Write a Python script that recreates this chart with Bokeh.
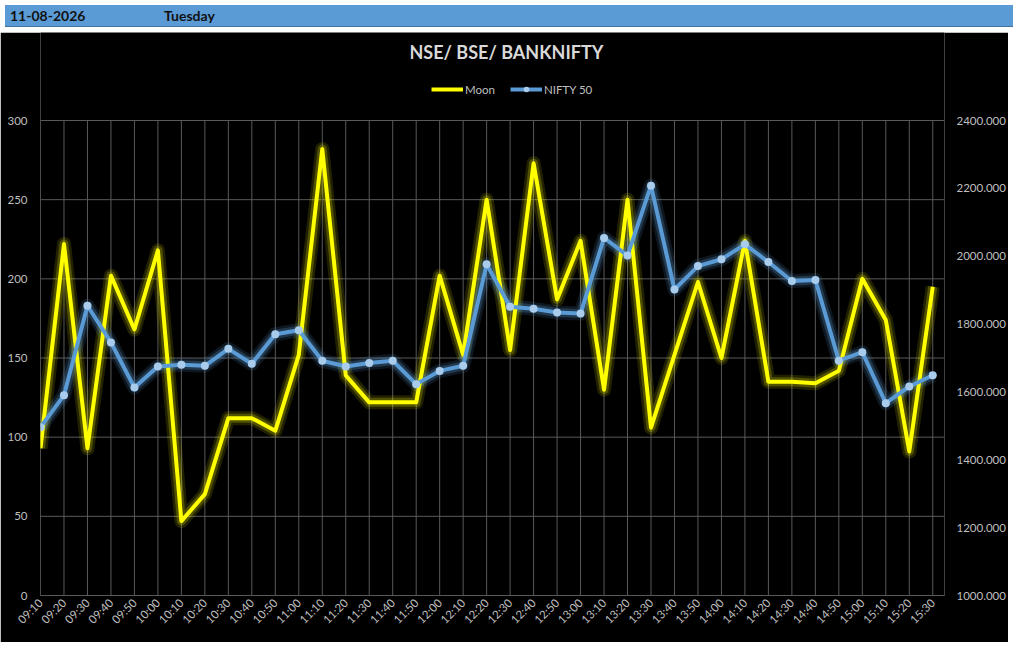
import math
from bokeh.plotting import figure
from bokeh.models import (Range1d, LinearAxis, FixedTicker, NumeralTickFormatter,
                          Legend, LegendItem, Div, ColumnDataSource, Label)
from bokeh.layouts import column
from bokeh.embed import file_html
from bokeh.resources import INLINE

header_date = "11-08-2026"
header_day = "Tuesday"
chart_title = "NSE/ BSE/ BANKNIFTY"

times = ["09:10", "09:20", "09:30", "09:40", "09:50", "10:00", "10:10", "10:20",
         "10:30", "10:40", "10:50", "11:00", "11:10", "11:20", "11:30", "11:40",
         "11:50", "12:00", "12:10", "12:20", "12:30", "12:40", "12:50", "13:00",
         "13:10", "13:20", "13:30", "13:40", "13:50", "14:00", "14:10", "14:20",
         "14:30", "14:40", "14:50", "15:00", "15:10", "15:20", "15:30"]

moon = [93, 222, 93, 202, 168, 218, 47, 64, 112, 112, 104, 152, 282, 139, 122,
        122, 122, 202, 152, 250, 155, 273, 187, 224, 130, 250, 106, 152, 198,
        150, 224, 135, 135, 134, 142, 200, 174, 91, 195]

nifty = [1496, 1590, 1854, 1746, 1613, 1675, 1680, 1677, 1727, 1683, 1770, 1782,
         1692, 1675, 1685, 1692, 1623, 1662, 1677, 1976, 1851, 1845, 1834, 1831,
         2054, 2002, 2208, 1902, 1971, 1991, 2035, 1983, 1927, 1930, 1692, 1717,
         1567, 1616, 1649]

left_ticks = [0, 50, 100, 150, 200, 250, 300]
right_ticks = [1000, 1200, 1400, 1600, 1800, 2000, 2200, 2400]

FONT = "Lato"
YELLOW = "#FFFF00"
BLUE = "#5B9BD5"
GRID = "#595959"
TXT = "#BFBFBF"

# geometry (pixels)
FIG_W, FIG_H = 1008, 610
B_LEFT, B_RIGHT, B_TOP, B_BOTTOM = 40, 60, 0, 47
AXIS_PX = 475          # pixels spanned by the 0..300 left axis
frame_w = FIG_W - B_LEFT - B_RIGHT
frame_h = FIG_H - B_TOP - B_BOTTOM
x_hi = 38.5
px_per_x = frame_w / x_hi
l_lo, l_hi = left_ticks[0], left_ticks[-1]
r_lo, r_hi = right_ticks[0], right_ticks[-1]
px_per_l = AXIS_PX / (l_hi - l_lo)
l_top = l_lo + frame_h / px_per_l
r_top = r_lo + (r_hi - r_lo) * frame_h / AXIS_PX

idx = list(range(len(times)))
src = ColumnDataSource(dict(x=idx, moon=moon, nifty=nifty))
vgrid_src = ColumnDataSource(dict(x=idx, y0=[l_lo] * len(idx), y1=[l_hi] * len(idx)))
hgrid_src = ColumnDataSource(dict(y=left_ticks, x0=[0] * len(left_ticks),
                                  x1=[x_hi] * len(left_ticks)))

header = Div(
    text=(f'<span style="position:absolute;left:5px;top:0px">{header_date}</span>'
          f'<span style="position:absolute;left:159px;top:0px">{header_day}</span>'),
    width=FIG_W, height=22,
    styles={"background-color": BLUE, "color": "#111111", "font-weight": "bold",
            "font-family": FONT, "font-size": "14px", "line-height": "22px",
            "position": "relative", "border-bottom": "1px solid #41719C",
            "box-sizing": "border-box"})

p = figure(width=FIG_W, height=FIG_H, output_backend="svg", toolbar_location=None,
           tools="",
           x_range=Range1d(0, x_hi), y_range=Range1d(l_lo, l_top),
           title_location=None,
           min_border_left=B_LEFT, min_border_right=B_RIGHT, min_border_top=B_TOP,
           min_border_bottom=B_BOTTOM)
p.background_fill_color = "black"
p.border_fill_color = "black"
p.outline_line_color = None
p.outline_line_alpha = 0

p.extra_y_ranges = {"right": Range1d(r_lo, r_top)}

# axes
p.xaxis.ticker = FixedTicker(ticks=idx)
p.xaxis.major_label_overrides = {i: t for i, t in enumerate(times)}
p.xaxis.major_label_orientation = math.pi / 4
p.xaxis.axis_line_color = GRID
p.xaxis.major_tick_line_color = None
p.xaxis.minor_tick_line_color = None
p.xaxis.major_tick_out = 0
p.xaxis.major_tick_in = 0
p.xaxis.major_label_text_color = TXT
p.xaxis.major_label_text_font = FONT
p.xaxis.major_label_text_font_size = "11.5px"
p.xaxis.major_label_standoff = 5

p.yaxis.ticker = FixedTicker(ticks=left_ticks)
p.yaxis.axis_line_color = None
p.yaxis.major_tick_line_color = None
p.yaxis.minor_tick_line_color = None
p.yaxis.major_tick_out = 0
p.yaxis.major_tick_in = 0
p.yaxis.major_label_text_color = TXT
p.yaxis.major_label_text_font = FONT
p.yaxis.major_label_text_font_size = "11.5px"
p.yaxis.major_label_standoff = 13

ra = LinearAxis(y_range_name="right", ticker=FixedTicker(ticks=right_ticks),
                formatter=NumeralTickFormatter(format="0.000"))
ra.axis_line_color = None
ra.major_tick_line_color = None
ra.minor_tick_line_color = None
ra.major_tick_out = 0
ra.major_tick_in = 0
ra.major_label_text_color = TXT
ra.major_label_text_font = FONT
ra.major_label_text_font_size = "11.5px"
ra.major_label_standoff = 12
p.add_layout(ra, "right")

p.xgrid.visible = False
p.ygrid.visible = False

# black underlay stroke drawn first (invisible on the black background)
p.line("x", "moon", source=src, color="black", line_width=1)

# gridlines limited to the 0..300 band
p.segment(x0="x", y0="y0", x1="x", y1="y1", source=vgrid_src, line_color=GRID,
          line_width=1)
p.segment(x0="x0", y0="y", x1="x1", y1="y", source=hgrid_src, line_color=GRID,
          line_width=1)

# glow layers
p.line("x", "moon", source=src, color=YELLOW, line_width=14, line_alpha=0.13,
       line_join="round")
p.line("x", "moon", source=src, color=YELLOW, line_width=9, line_alpha=0.22,
       line_join="round")
p.line("x", "nifty", source=src, y_range_name="right", color=BLUE, line_width=14,
       line_alpha=0.15, line_join="round")
p.line("x", "nifty", source=src, y_range_name="right", color=BLUE, line_width=9,
       line_alpha=0.25, line_join="round")

r_moon = p.line("x", "moon", source=src, color=YELLOW, line_width=4,
                line_join="round")
r_nifty = p.line("x", "nifty", source=src, y_range_name="right", color=BLUE,
                 line_width=4, line_join="round")
r_pts = p.scatter("x", "nifty", source=src, y_range_name="right", size=8,
                  fill_color="#A9CCEC", line_color=None)

# title (inside the frame's upper band)
title_cx_px = 468             # centre of the title, px from frame left
title_cy_px = 19 - B_TOP      # centre of the title, px from frame top
p.add_layout(Label(x=title_cx_px / px_per_x, y=l_top - title_cy_px / px_per_l,
                   text=chart_title, text_align="center", text_baseline="middle",
                   text_color="#D9D9D9", text_font=FONT, text_font_size="18px",
                   text_font_style="bold"))

legend_cy_px = 57 - B_TOP
legend_bottom = frame_h - legend_cy_px - 7
legend = Legend(items=[LegendItem(label="Moon", renderers=[r_moon]),
                       LegendItem(label="NIFTY 50", renderers=[r_nifty, r_pts])],
                orientation="horizontal", location=(391, legend_bottom),
                label_text_color=TXT, label_text_font=FONT,
                label_text_font_size="11.5px", glyph_width=32, glyph_height=14,
                label_height=14, label_standoff=2, spacing=15, padding=0,
                margin=0, background_fill_alpha=0, border_line_alpha=0)
p.add_layout(legend, "center")

layout = column(header, p, spacing=0)
open("out.html", "w").write(file_html(layout, INLINE))
